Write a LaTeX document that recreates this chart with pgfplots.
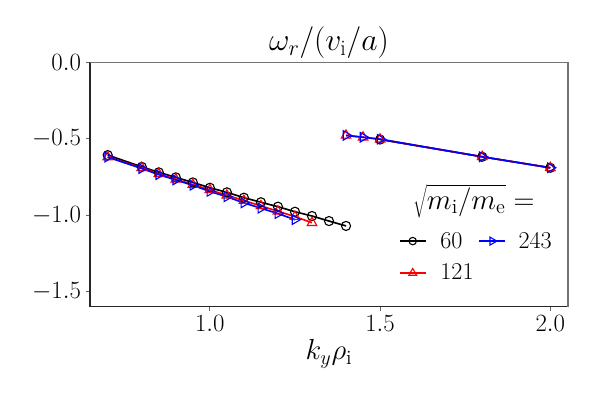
\RequirePackage{fix-cm}
\documentclass[border=0pt]{standalone}
\usepackage{fontspec}
\usepackage{pgfplots}
\pgfplotsset{compat=1.18}
\begin{document}
\begin{tikzpicture}
\useasboundingbox (0,0) rectangle (433.6pt,289.3pt);
\begin{axis}[
  at={(65.26pt,66.93pt)}, anchor=south west,
  scale only axis, width=346.6pt, height=177.1pt,
  xmin=0.648, xmax=2.052, ymin=-1.6, ymax=0,
  axis lines*=left,
  axis line style={black!85, line width=0.8pt},
  xtick={1.0,1.5,2.0}, ytick={0,-0.5,-1.0,-1.5},
  xticklabel style={/pgf/number format/.cd,fixed,fixed zerofill,precision=1},
  yticklabel style={/pgf/number format/.cd,fixed,fixed zerofill,precision=1},
  tick label style={font=\fontsize{18}{22}\selectfont},
  tick align=outside, major tick length=3pt,
  tick style={black!60, line width=0.6pt},
  title={$\omega_r/(v_\mathrm{i}/a)$},
  title style={font=\fontsize{23}{27}\selectfont, at={(0.5,1)}, anchor=base, yshift=2.5pt},
  xlabel={$k_y\rho_\mathrm{i}$},
  xlabel style={font=\fontsize{21}{25}\selectfont, at={(0.5,0)}, anchor=base, yshift=-38.5pt},
  legend columns=2,
  legend style={at={(rel axis cs:0.809,0.2034)}, anchor=center, draw=none, fill=none,
    font=\fontsize{17.5}{21}\selectfont, row sep=6pt,
    /tikz/column 1/.style={column sep=8pt},
    /tikz/column 2/.style={column sep=1.5pt},
    /tikz/column 3/.style={column sep=7pt}},
  legend cell align=left,
  legend image code/.code={\draw[mark repeat=2,mark phase=2,#1] plot coordinates {(0pt,0pt) (9.5pt,0pt) (19pt,0pt)};},
  clip=false,
]
\addlegendimage{black, line width=1.1pt, mark=o, mark size=2.7pt, mark options={line width=0.8pt}}
\addlegendentry{60}
\addlegendimage{blue, line width=1.1pt, mark=triangle, mark size=3.3pt, mark options={rotate=-90, line width=0.8pt}}
\addlegendentry{243}
\addlegendimage{red, line width=1.1pt, mark=triangle, mark size=3.3pt, mark options={line width=0.8pt}}
\addlegendentry{121}

\draw[black!55, line width=0.8pt] (rel axis cs:0,1) -- (rel axis cs:1,1) -- (rel axis cs:1,0);

% sqrt(mi/me)=60
\addplot[black, line width=1.2pt, mark=o, mark size=3.3pt, mark options={line width=0.8pt}, forget plot] coordinates {
(0.70,-0.607) (0.80,-0.684) (0.85,-0.720) (0.90,-0.753) (0.95,-0.786) (1.00,-0.821)
(1.05,-0.851) (1.10,-0.886) (1.15,-0.916) (1.20,-0.945) (1.25,-0.978) (1.30,-1.006)
(1.35,-1.039) (1.40,-1.071)};
\addplot[black, line width=1.2pt, mark=o, mark size=3.3pt, mark options={line width=0.8pt}, forget plot] coordinates {
(1.50,-0.505) (1.80,-0.618) (2.00,-0.690)};
% 121
\addplot[red, line width=1.2pt, mark=triangle, mark size=4pt, mark options={line width=0.8pt}, forget plot] coordinates {
(0.70,-0.620) (0.80,-0.690) (0.85,-0.730) (0.90,-0.765) (0.95,-0.800) (1.00,-0.835)
(1.05,-0.870) (1.10,-0.905) (1.15,-0.940) (1.20,-0.975) (1.25,-1.010) (1.30,-1.050)};
\addplot[red, line width=1.2pt, mark=triangle, mark size=4pt, mark options={line width=0.8pt}, forget plot] coordinates {
(1.40,-0.478) (1.45,-0.490) (1.50,-0.503) (1.80,-0.618) (2.00,-0.690)};
% 243
\addplot[blue, line width=1.2pt, mark=triangle, mark size=4pt, mark options={rotate=-90, line width=0.8pt}, forget plot] coordinates {
(0.70,-0.620) (0.80,-0.695) (0.85,-0.735) (0.90,-0.770) (0.95,-0.805) (1.00,-0.845)
(1.05,-0.880) (1.10,-0.920) (1.15,-0.955) (1.20,-0.990) (1.25,-1.030)};
\addplot[blue, line width=1.2pt, mark=triangle, mark size=4pt, mark options={rotate=-90, line width=0.8pt}, forget plot] coordinates {
(1.40,-0.478) (1.45,-0.490) (1.50,-0.503) (1.80,-0.618) (2.00,-0.690)};

\node[font=\fontsize{21}{25}\selectfont, anchor=center] at (rel axis cs:0.803,0.431) {$\sqrt{m_\mathrm{i}/m_\mathrm{e}}=$};
\end{axis}
\end{tikzpicture}
\end{document}
